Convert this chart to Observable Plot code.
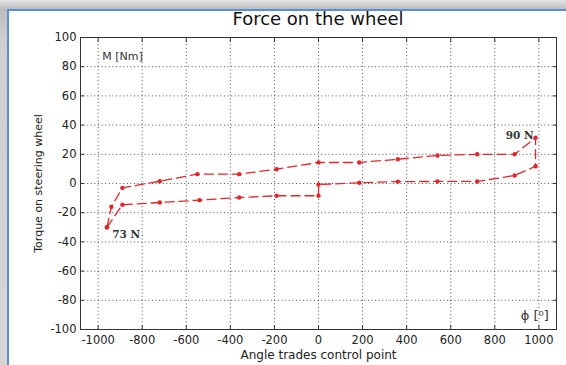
<!DOCTYPE html>
<html>
<head>
<meta charset="utf-8">
<script src="https://cdn.jsdelivr.net/npm/d3@7"></script>
<script src="https://cdn.jsdelivr.net/npm/@observablehq/plot@0.6"></script>
<style>
  html, body { margin: 0; padding: 0; }
  body {
    width: 566px; height: 365px; overflow: hidden; position: relative;
    background: linear-gradient(#e4e4e4, #bdbdbd 9px, #cfcfcf 40px, #d6d6d6);
    font-family: "DejaVu Sans", "Liberation Sans", Arial, sans-serif;
  }
  #panel {
    position: absolute; left: 7px; top: 9px; width: 580px; height: 380px;
    background: #fff; border-left: 2px solid #5a8ed6; border-top: 2px solid #5a8ed6;
  }
  #figure { position: absolute; left: 0; top: 0; width: 566px; }
  #title {
    height: 22px; margin-top: 8px; line-height: 22px;
    padding-left: 80px; padding-right: 10px; text-align: center;
    font-size: 18px; color: #111;
  }
  #chart svg { display: block; background: transparent; }
</style>
</head>
<body>
<div id="panel"></div>
<div id="figure">
  <div id="title">Force on the wheel</div>
  <div id="chart"></div>
</div>
<script>
// Steering loop: angle of the trades control point vs. torque on the wheel
// Outgoing branch (left to right)
const outAngle  = [-960, -940, -890, -720, -550, -360, -190, 0, 185, 360, 540, 720, 890, 985];
const outTorque = [-30, -16, -3, 1.6, 6.4, 6.4, 9.8, 14.4, 14.4, 16.6, 19.2, 20, 20, 31.3];
// Return branch (right to left)
const backAngle  = [985, 890, 720, 540, 360, 185, 0, 0, -190, -360, -540, -720, -890, -960];
const backTorque = [11.8, 5.5, 1.4, 1.4, 1.3, 0.5, -0.7, -8.4, -8.4, -9.6, -11.4, -13, -14.6, -30];

const xTicks = [-1000, -800, -600, -400, -200, 0, 200, 400, 600, 800, 1000];
const yTicks = [-100, -80, -60, -40, -20, 0, 20, 40, 60, 80, 100];

// Force annotations at the loop's ends
const notes = [
  {x: -936, y: -35, text: "73 N"},
  {x: 850, y: 33, text: "90 N"}
];
const unitNotes = [
  {x: -981, y: 87, text: "M [Nm]", size: 11},
  {x: 918, y: -90.5, text: "ϕ [⁰]", size: 13}
];

const loop = [
  ...outAngle.map((a, i) => ({angle: a, torque: outTorque[i]})),
  ...backAngle.map((a, i) => ({angle: a, torque: backTorque[i]}))
];

const red = "#e1262c";
const font = "DejaVu Sans, Liberation Sans, Arial, sans-serif";
const plain = d => String(d);

const chart = Plot.plot({
  width: 566,
  height: 335,
  marginLeft: 80,
  marginRight: 10,
  marginTop: 7,
  marginBottom: 36,
  style: {fontFamily: font, fontSize: "11.5px", color: "#222", background: "transparent"},
  x: {domain: [-1080, 1080]},
  y: {domain: [-100, 100]},
  marks: [
    Plot.gridX(xTicks, {stroke: "#333", strokeOpacity: 0.85, strokeDasharray: "1,2.6"}),
    Plot.gridY(yTicks, {stroke: "#333", strokeOpacity: 0.85, strokeDasharray: "1,2.6"}),
    Plot.frame({stroke: "#333"}),
    Plot.axisX(xTicks, {anchor: "bottom", tickSize: -4, tickPadding: 10, tickFormat: plain, label: null, stroke: "#333"}),
    Plot.axisX(xTicks, {anchor: "top", tickSize: -4, tickFormat: () => "", label: null, stroke: "#333"}),
    Plot.axisY(yTicks, {anchor: "left", tickSize: -4, tickPadding: 8, tickFormat: plain, label: null, stroke: "#333"}),
    Plot.axisY(yTicks, {anchor: "right", tickSize: -4, tickFormat: () => "", label: null, stroke: "#333"}),
    Plot.axisX([], {anchor: "bottom", label: "Angle trades control point", labelAnchor: "center", labelArrow: "none", labelOffset: 29, fontSize: 12}),
    Plot.axisY([], {anchor: "left", label: "Torque on steering wheel", labelAnchor: "center", labelArrow: "none", labelOffset: 46, fontSize: 11}),
    Plot.line(loop, {x: "angle", y: "torque", stroke: red, strokeWidth: 1.3, strokeDasharray: "9,5"}),
    Plot.dot(loop, {x: "angle", y: "torque", r: 2.2, fill: red, stroke: null}),
    Plot.text(notes, {x: "x", y: "y", text: "text", textAnchor: "start", fontFamily: "DejaVu Serif, Liberation Serif, serif", fontWeight: "bold", fontSize: 10.5, fill: "#333"}),
    Plot.text(unitNotes, {x: "x", y: "y", text: "text", textAnchor: "start", fontSize: d => d.size, fill: "#333"})
  ]
});

document.getElementById("chart").appendChild(chart);
</script>
</body>
</html>
